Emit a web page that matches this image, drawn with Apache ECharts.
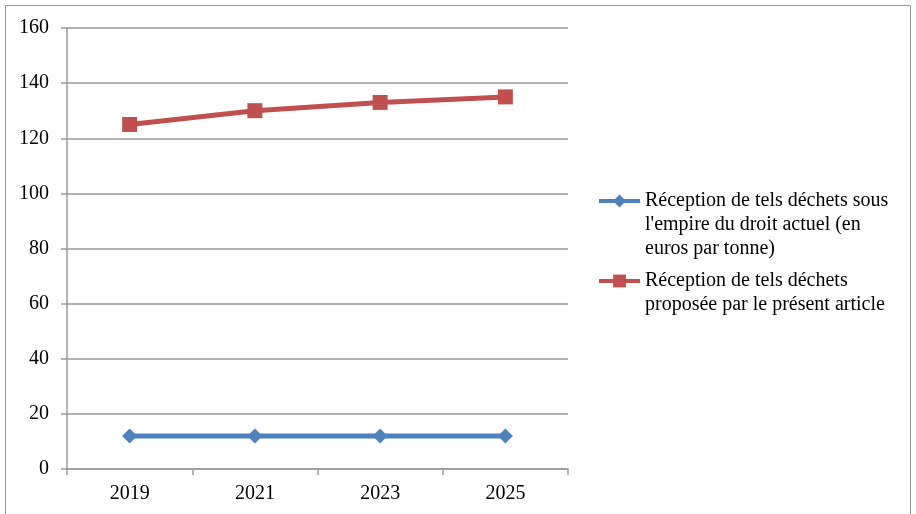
<!DOCTYPE html>
<html>
<head>
<meta charset="utf-8">
<script src="https://cdn.jsdelivr.net/npm/echarts@6/dist/echarts.min.js"></script>
<style>
  html, body { margin: 0; padding: 0; background: #fff; }
  #chart { width: 916px; height: 514px; }
</style>
</head>
<body>
<div id="chart"></div>
<script>
  var years = ['2019', '2021', '2023', '2025'];
  var droitActuel = [12, 12, 12, 12];
  var presentArticle = [125, 130, 133, 135];
  var nomActuel = "Réception de tels déchets sous\nl'empire du droit actuel (en\neuros par tonne)";
  var nomArticle = "Réception de tels déchets\nproposée par le présent article";

  var font = 'Liberation Serif';
  var gris = '#9a9a9a';

  // lignes vides devant le texte : l'icône reste sur la première ligne
  function decale(name) {
    var n = name.split('\n').length;
    var vide = '';
    for (var i = 1; i < n; i++) vide += '\n';
    return vide + name;
  }

  var legendeBase = {
    orient: 'vertical',
    left: 597, padding: 0,
    itemWidth: 41, itemHeight: 16,
    formatter: decale,
    lineStyle: { width: 4 },
    textStyle: { fontFamily: font, fontSize: 20, lineHeight: 24, color: '#000' }
  };

  var mychar = echarts.init(document.getElementById('chart'));
  var option = {
    animation: false,
    textStyle: { fontFamily: font },
    graphic: [{
      type: 'rect',
      shape: { x: 5.5, y: 5.5, width: 905, height: 520 },
      style: { fill: 'none', stroke: gris, lineWidth: 1 }
    }],
    grid: { left: 67, right: 348, top: 28, bottom: 45 },
    legend: [
      Object.assign({}, legendeBase, { data: [nomActuel], top: 141 }),
      Object.assign({}, legendeBase, { data: [nomArticle], top: 245 })
    ],
    xAxis: {
      type: 'category',
      data: years,
      boundaryGap: true,
      axisLine: { lineStyle: { color: gris, width: 1.5 } },
      axisTick: { show: true, length: 6, lineStyle: { color: gris, width: 1.5 } },
      axisLabel: { margin: 15, fontSize: 20, color: '#000', fontFamily: font }
    },
    yAxis: {
      type: 'value',
      min: 0, max: 160, interval: 20,
      axisLine: { show: true, lineStyle: { color: gris, width: 1.5 } },
      axisTick: { show: true, length: 6, lineStyle: { color: gris, width: 1.5 } },
      splitLine: { lineStyle: { color: gris, width: 1.5 } },
      axisLabel: { margin: 18, fontSize: 20, color: '#000', fontFamily: font }
    },
    series: [{
      name: nomActuel,
      type: 'line',
      data: droitActuel,
      color: '#4F81BD',
      symbol: 'diamond',
      symbolSize: 15,
      lineStyle: { width: 5 },
      itemStyle: { color: '#4F81BD' }
    }, {
      name: nomArticle,
      type: 'line',
      data: presentArticle,
      color: '#C0504D',
      symbol: 'rect',
      symbolSize: 15,
      lineStyle: { width: 5 },
      itemStyle: { color: '#C0504D' }
    }]
  };
  mychar.setOption(option);
</script>
</body>
</html>
